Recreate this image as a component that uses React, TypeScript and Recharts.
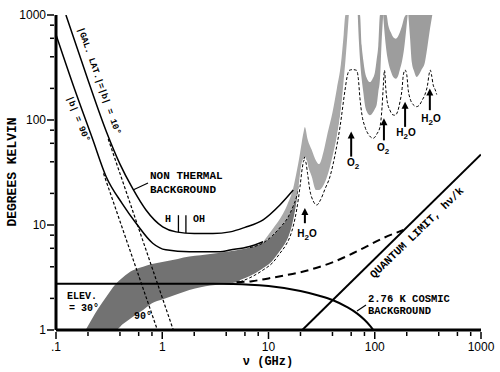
import React from 'react';
import { ComposedChart, Line, Area, XAxis, YAxis, ReferenceLine } from 'recharts';

// frequency in GHz, temperature in K

// galactic background, |b| = 10 deg
const gal10Freq = [0.124, 0.2, 0.3, 0.4, 0.526, 0.703, 1.01, 1.35, 2, 3, 4.35, 6, 8.9, 12.8, 17.1];
const gal10Temp = [1000, 240, 76, 38, 22.3, 13.9, 9.6, 8.6, 8.3, 8.3, 8.6, 9.5, 11.2, 15.5, 21.5];
// galactic background, |b| = 90 deg
const gal90Freq = [0.1, 0.15, 0.221, 0.296, 0.42, 0.567, 0.813, 1.08, 1.8, 3.5, 4.35, 6.5, 8.9];
const gal90Temp = [650, 195, 66, 29, 16, 10.4, 6.7, 5.8, 5.57, 5.57, 5.78, 6.2, 6.93];
// power-law extensions (dashed)
const gal10ExtFreq = [0.31, 1.27];
const gal10ExtTemp = [66, 1];
const gal90ExtFreq = [0.28, 0.9];
const gal90ExtTemp = [31, 1];

// 2.76 K cosmic background
const cmbFreq = [0.1, 1, 3, 6.7, 10, 20, 30, 40, 55, 68, 80, 90, 97];
const cmbTemp = [2.76, 2.76, 2.75, 2.7, 2.62, 2.35, 2.12, 1.93, 1.65, 1.44, 1.25, 1.1, 1.0];

// quantum limit h nu / k
const qlFreq = [20.8, 1000];
const qlTemp = [1, 47];

// cosmic + quantum (heavy dashed)
const sumFreq = [5, 7, 10, 14, 20, 28, 40, 58, 80, 120, 186];
const sumTemp = [2.85, 2.92, 3.1, 3.3, 3.55, 3.9, 4.4, 5.2, 6.1, 7.5, 8.95];

// atmosphere at zenith (thin dashed)
const zenFreq = [5.4, 6.7, 8.9, 11, 12.8, 14.5, 15.9, 17.2, 18.4, 19.8, 20.8, 21.6, 22.4, 23.3, 24.5, 26.3, 28.4, 31, 34, 37.9, 42, 47.1, 52.5, 55, 57.5, 62, 67.5, 70, 72.6, 76, 80.9, 88, 96.8, 105, 112, 117, 120, 123.5, 127, 131, 139, 146, 155, 164, 173, 180, 186, 193, 200, 207, 215, 230, 248, 265, 280, 297, 315, 324, 333, 342, 355, 370, 383];
const zenTemp = [2.88, 3.15, 3.73, 4.4, 5.37, 6.4, 7.7, 10, 13.9, 23.2, 35, 41.5, 40, 31, 21.5, 17, 15.5, 17.5, 22, 28.9, 45, 86, 193, 260, 297, 302, 297, 250, 160, 110, 86, 72, 67, 74, 86, 130, 200, 297, 200, 150, 124, 113, 111, 120, 150, 190, 270, 299, 270, 190, 160, 140, 134, 140, 155, 175, 220, 270, 299, 270, 215, 195, 175];

// dark band (elev. 30 deg .. 90 deg)
const darkFreq = [0.19, 0.25, 0.3, 0.36, 0.43, 0.53, 0.66, 0.8, 1, 1.4, 1.8, 2.3, 3.5, 5, 6.7, 9, 11, 13, 15, 17, 18.5, 19.5, 20.5, 21.3];
const darkLo = [1, 1, 1, 1, 1.15, 1.34, 1.55, 1.8, 1.95, 2.2, 2.4, 2.55, 2.72, 2.85, 3.15, 3.75, 4.4, 5.6, 7.0, 10, 14, 21, 31, 38];
const darkHi = [1, 1.6, 2.1, 2.7, 3.2, 3.7, 4.0, 4.25, 4.45, 4.75, 5.0, 5.15, 5.45, 5.75, 6.1, 6.8, 8.0, 9.6, 11.5, 15, 19, 24, 32, 40];
// black dashed top edge of dark band
const edgeFreq = [6.7, 9, 11, 13, 15, 17, 18.5, 19.5, 20.5, 21.3, 22];
const edgeTemp = [6.1, 6.8, 8.0, 9.6, 11.5, 15, 19, 24, 32, 40, 45];

// light band up to the 22 GHz line and on to 60 GHz
const lightFreq = [9, 11, 13, 15, 17, 18.5, 19.5, 20.5, 21.3, 22, 23.3, 25.5, 28, 30, 33, 36, 40, 44, 48, 51, 53, 55, 57];
const lightLo = [6.8, 8.0, 9.6, 11.5, 15, 19, 24, 32, 40, 45, 37, 29, 21.5, 21.5, 24, 30, 45, 70, 125, 240, 370, 600, 1000];
const lightHi = [7.0, 9.2, 11.7, 15.5, 22, 33, 44, 60, 75, 86, 66, 52, 41, 38, 50, 75, 118, 200, 340, 650, 1000, 1000, 1000];

// gray band between the O2 / H2O lines
const segBFreq = [69.2, 71, 72.6, 75.3, 78, 80.9, 85, 90.2, 95, 100.5, 104, 108, 112, 116, 120];
const segBLo = [1000, 550, 380, 247, 185, 138, 118, 111, 116, 128, 138, 185, 247, 550, 1000];
const segBHi = [1000, 1000, 1000, 514, 370, 286, 245, 230, 245, 286, 370, 514, 1000, 1000, 1000];
const segCFreq = [120, 125, 129, 134, 142, 150, 157, 165, 172, 180, 190, 197, 204];
const segCLo = [1000, 600, 450, 357, 290, 255, 247, 260, 300, 357, 500, 700, 1000];
const segCHi = [1000, 1000, 1000, 800, 680, 610, 595, 620, 680, 780, 950, 1000, 1000];
const segDFreq = [207, 215, 223, 235, 248, 260, 275, 297, 315, 332, 348];
const segDLo = [1000, 600, 357, 290, 257, 270, 300, 357, 520, 750, 1000];
const segDHi = [1000, 1000, 1000, 1000, 1000, 1000, 1000, 1000, 1000, 1000, 1000];

// line arrows
const arrowFreq = [22, 60, 122, 193, 330];
const arrowLow = [10.4, 44.8, 64, 86, 124];
const arrowHigh = [14.5, 77.6, 104, 149, 200];

const xTicks = [0.1, 0.2, 0.4, 0.6, 0.8, 1, 2, 4, 6, 8, 10, 20, 40, 60, 80, 100, 200, 400, 600, 800, 1000];
const yTicks = [1, 2, 4, 6, 8, 10, 20, 40, 60, 80, 100, 200, 400, 600, 800, 1000];

const pts = (f: number[], t: number[]) => f.map((v, i) => ({ v, t: t[i] }));
const band = (f: number[], lo: number[], hi: number[]) => f.map((v, i) => ({ v, r: [lo[i], hi[i]] }));

const isMajor = (v: number) => Math.abs(Math.log10(v) - Math.round(Math.log10(v))) < 1e-6;
const xLabel = (v: number) => (v < 1 ? '.1' : String(v));
const tickFont = 'Liberation Sans, Arial, sans-serif';
const mono = 'Liberation Mono, DejaVu Sans Mono, monospace';

const BottomTick = (p: any) => {
  const major = isMajor(p.payload.value);
  return (
    <g>
      <line x1={p.x} x2={p.x} y1={p.y} y2={p.y + (major ? 7 : 4)} stroke="#000" strokeWidth={1.5} />
      {major && (
        <text x={p.x} y={p.y + 19} textAnchor="middle" fontSize={12} fontFamily={tickFont}>
          {xLabel(p.payload.value)}
        </text>
      )}
    </g>
  );
};
const TopTick = (p: any) => {
  const major = isMajor(p.payload.value);
  return <line x1={p.x} x2={p.x} y1={p.y} y2={p.y - (major ? 7 : 4)} stroke="#000" strokeWidth={1.5} />;
};
const LeftTick = (p: any) => {
  const major = isMajor(p.payload.value);
  return (
    <g>
      <line x1={p.x} x2={p.x - (major ? 7 : 4)} y1={p.y} y2={p.y} stroke="#000" strokeWidth={1.5} />
      {major && (
        <text x={p.x - 8} y={p.y + 4} textAnchor="end" fontSize={12} fontFamily={tickFont}>
          {p.payload.value}
        </text>
      )}
    </g>
  );
};
const RightTick = (p: any) => {
  const major = isMajor(p.payload.value);
  return <line x1={p.x} x2={p.x + (major ? 7 : 4)} y1={p.y} y2={p.y} stroke="#000" strokeWidth={1.5} />;
};

const Arrow = (p: any) => {
  const { x1, y1, x2, y2 } = p;
  return (
    <g>
      <line x1={x1} y1={y1} x2={x2} y2={y2 + 5} stroke="#000" strokeWidth={2} />
      <polygon points={`${x2 - 3.5},${y2 + 7} ${x2 + 3.5},${y2 + 7} ${x2},${y2}`} fill="#000" />
    </g>
  );
};

const line = (f: number[], t: number[], extra: any = {}) => (
  <Line
    data={pts(f, t)}
    dataKey="t"
    type="monotone"
    stroke="#000"
    strokeWidth={1.5}
    dot={false}
    activeDot={false}
    isAnimationActive={false}
    {...extra}
  />
);

const area = (f: number[], lo: number[], hi: number[], fill: string) => (
  <Area
    data={band(f, lo, hi)}
    dataKey="r"
    type="monotone"
    fill={fill}
    fillOpacity={1}
    stroke="none"
    dot={false}
    activeDot={false}
    isAnimationActive={false}
  />
);

const Sub = ({ x, y, a, s, b }: { x: number; y: number; a: string; s: string; b?: string }) => (
  <text x={x} y={y} textAnchor="middle" fontSize={10} fontWeight="bold" fontFamily={tickFont}>
    {a}
    <tspan fontSize={8} dy={3}>{s}</tspan>
    {b && <tspan dy={-3}>{b}</tspan>}
  </text>
);

export default function App() {
  const lbl = { fontFamily: mono, fontWeight: 'bold' as const, fill: '#000' };
  return (
    <div style={{ position: 'absolute', left: 0, top: 0, width: 500, height: 372, background: '#fff' }}>
      <ComposedChart width={500} height={372} margin={{ top: 15, right: 19, bottom: 0, left: 0 }}>
        <XAxis
          dataKey="v"
          type="number"
          scale="log"
          domain={[0.1, 1000]}
          allowDataOverflow
          ticks={xTicks}
          interval={0}
          tick={<BottomTick />}
          tickSize={0}
          tickLine={false}
          axisLine={{ stroke: '#000', strokeWidth: 3 }}
          height={42}
        />
        <XAxis
          xAxisId="top"
          orientation="top"
          dataKey="v"
          type="number"
          scale="log"
          domain={[0.1, 1000]}
          allowDataOverflow
          ticks={xTicks}
          interval={0}
          tick={<TopTick />}
          tickSize={0}
          tickLine={false}
          axisLine={{ stroke: '#000', strokeWidth: 3 }}
          height={0}
        />
        <YAxis
          type="number"
          scale="log"
          domain={[1, 1000]}
          allowDataOverflow
          ticks={yTicks}
          interval={0}
          tick={<LeftTick />}
          tickSize={0}
          tickLine={false}
          axisLine={{ stroke: '#000', strokeWidth: 3 }}
          width={56}
        />
        <YAxis
          yAxisId="right"
          orientation="right"
          type="number"
          scale="log"
          domain={[1, 1000]}
          allowDataOverflow
          ticks={yTicks}
          interval={0}
          tick={<RightTick />}
          tickSize={0}
          tickLine={false}
          axisLine={{ stroke: '#000', strokeWidth: 3 }}
          width={0}
        />

        {area(darkFreq, darkLo, darkHi, '#727272')}
        {area(lightFreq, lightLo, lightHi, '#a9a9a9')}
        {area(segBFreq, segBLo, segBHi, '#9d9d9d')}
        {area(segCFreq, segCLo, segCHi, '#9d9d9d')}
        {area(segDFreq, segDLo, segDHi, '#9d9d9d')}

        {line(gal10Freq, gal10Temp)}
        {line(gal90Freq, gal90Temp)}
        {line(gal10ExtFreq, gal10ExtTemp, { type: 'linear', strokeWidth: 1.2, strokeDasharray: '3 2' })}
        {line(gal90ExtFreq, gal90ExtTemp, { type: 'linear', strokeWidth: 1.2, strokeDasharray: '3 2' })}
        {line(edgeFreq, edgeTemp, { strokeWidth: 1, strokeDasharray: '3 2' })}
        {line(zenFreq, zenTemp, { stroke: '#fff', strokeWidth: 3 })}
        {line(zenFreq, zenTemp, { strokeWidth: 1, strokeDasharray: '3 2' })}
        {line(cmbFreq, cmbTemp, { strokeWidth: 2 })}
        {line(qlFreq, qlTemp, { type: 'linear', strokeWidth: 2 })}
        {line(sumFreq, sumTemp, { strokeWidth: 2, strokeDasharray: '8 5' })}

        <ReferenceLine segment={[{ x: 1.42, y: 8.5 }, { x: 1.42, y: 12.4 }]} stroke="#000" strokeWidth={1.3} />
        <ReferenceLine segment={[{ x: 1.67, y: 8.4 }, { x: 1.67, y: 12.4 }]} stroke="#000" strokeWidth={1.3} />
        {arrowFreq.map((f, i) => (
          <ReferenceLine
            key={f}
            segment={[{ x: f, y: arrowLow[i] }, { x: f, y: arrowHigh[i] }]}
            shape={<Arrow />}
          />
        ))}
      </ComposedChart>

      <svg width={500} height={372} style={{ position: 'absolute', left: 0, top: 0, pointerEvents: 'none' }}>
        <text transform="translate(16,172) rotate(-90)" textAnchor="middle" fontSize={13} {...lbl}>
          DEGREES KELVIN
        </text>
        <text x={268} y={365} textAnchor="middle" fontSize={12} {...lbl}>
          ν (GHz)
        </text>
        <text transform="translate(99,81) rotate(70.5)" textAnchor="middle" dominantBaseline="middle" fontSize={9} {...lbl}>
          |GAL. LAT.|=|b| = 10°
        </text>
        <text transform="translate(78,119) rotate(68)" textAnchor="middle" dominantBaseline="middle" fontSize={9} {...lbl}>
          |b| = 90°
        </text>
        <text x={150} y={179} fontSize={11} {...lbl}>NON THERMAL</text>
        <text x={150} y={193} fontSize={11} {...lbl}>BACKGROUND</text>
        <line x1={148} y1={183} x2={133} y2={190} stroke="#000" strokeWidth={1.2} />
        <text x={168} y={222} textAnchor="middle" fontSize={10} {...lbl}>H</text>
        <text x={199} y={222} textAnchor="middle" fontSize={10} {...lbl}>OH</text>
        <text x={67} y={299} fontSize={10} {...lbl}>ELEV.</text>
        <text x={69} y={311} fontSize={10} {...lbl}>= 30°</text>
        <text x={143} y={319} textAnchor="middle" fontSize={10} {...lbl}>90°</text>
        <text transform="translate(417,233) rotate(-44)" textAnchor="middle" dominantBaseline="middle" fontSize={11} {...lbl}>
          QUANTUM LIMIT, hν/k
        </text>
        <text x={368} y={302} fontSize={10.5} {...lbl}>2.76 K COSMIC</text>
        <text x={368} y={314} fontSize={10.5} {...lbl}>BACKGROUND</text>
        <line x1={366} y1={305} x2={357} y2={311} stroke="#000" strokeWidth={1.2} />
        <Sub x={307} y={237} a="H" s="2" b="O" />
        <Sub x={353} y={166} a="O" s="2" />
        <Sub x={383} y={151} a="O" s="2" />
        <Sub x={406} y={136} a="H" s="2" b="O" />
        <Sub x={431} y={122} a="H" s="2" b="O" />
      </svg>
    </div>
  );
}
